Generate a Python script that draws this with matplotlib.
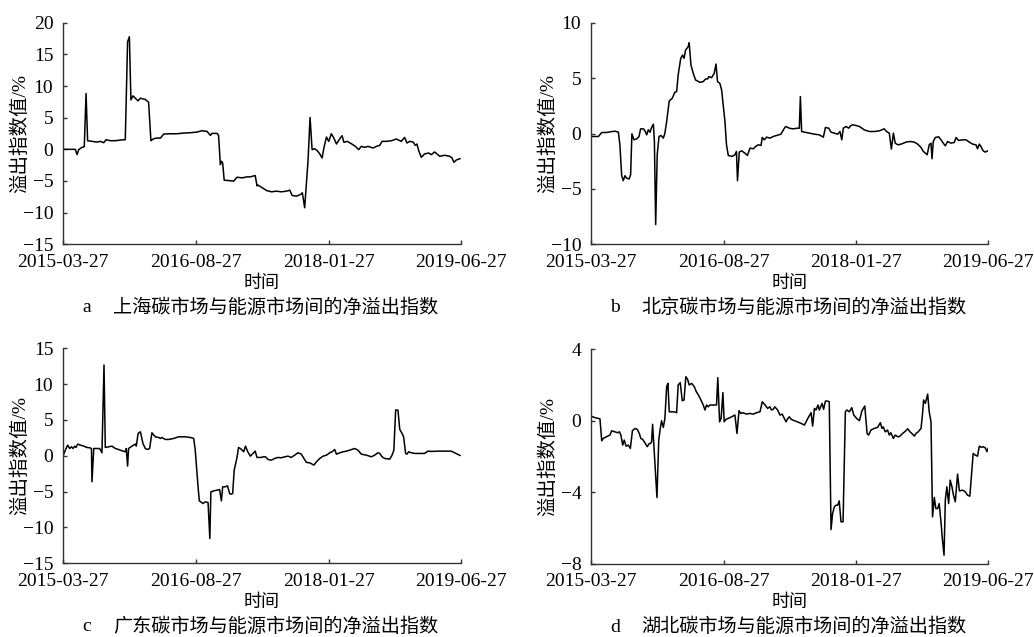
import matplotlib
matplotlib.use("Agg")
import matplotlib.pyplot as plt
import pandas as pd

plt.rcParams['font.family'] = ['Liberation Serif', 'Noto Sans CJK SC']
plt.rcParams['axes.unicode_minus'] = True

# Time axis: day offsets from the first observation (2015-03-27)
start_date = "2015-03-27"
tick_labels = ["2015-03-27", "2016-08-27", "2018-01-27", "2019-06-27"]

# a  Shanghai
days_a = [0, 48, 55, 61, 74, 83, 90, 96, 113, 133, 146, 159, 168, 185, 204, 224, 243, 252, 259, 265,
          273, 282, 293, 302, 321, 334, 343, 354, 367, 380, 393, 419, 445, 471, 497, 523, 542, 562, 575, 581,
          601, 607, 614, 619, 623, 629, 646, 666, 679, 698, 718, 731, 750, 757, 761, 774, 794, 813, 833, 852,
          872, 885, 894, 911, 927, 934, 943, 956, 964, 972, 982, 992, 1002, 1011, 1018, 1028, 1037, 1047, 1057, 1067,
          1080, 1089, 1096, 1109, 1125, 1141, 1154, 1164, 1177, 1190, 1210, 1223, 1236, 1245, 1262, 1281, 1301, 1320, 1333, 1342,
          1353, 1366, 1375, 1381, 1388, 1398, 1411, 1427, 1437, 1450, 1470, 1489, 1509, 1518, 1525, 1535, 1549]
vals_a = [0, 0, -0.84, -0.05, 0.31, 0.42, 8.81, 1.36, 1.26, 1.15, 1.26, 1.05, 1.52, 1.36, 1.36, 1.47, 1.52, 16.99, 17.78, 7.81,
          8.44, 8.08, 7.66, 8.08, 7.87, 7.45, 1.36, 1.68, 1.78, 1.78, 2.41, 2.46, 2.46, 2.57, 2.62, 2.73, 2.94, 2.83, 2.20, 2.52,
          2.52, 2.20, -2.41, -1.89, -2.15, -4.88, -4.93, -5.03, -4.40, -4.51, -4.35, -4.35, -4.14, -5.77, -5.66, -5.98, -6.50, -6.71, -6.61, -6.71,
          -6.61, -6.45, -7.29, -7.39, -7.13, -6.87, -9.23, -1.89, 5.03, -0.05, 0.10, -0.21, -0.73, -1.36, 0.21, 1.94, 1.26, 2.46, 1.78, 0.84,
          1.68, 2.15, 1.10, 1.26, 0.89, 0.47, -0.05, 0.47, 0.31, 0.47, 0.21, 0.47, 0.63, 1.26, 1.26, 1.36, 1.63, 1.26, 1.89, 1.00,
          1.26, 1.15, 0.63, 0.84, -0.21, -1.26, -0.73, -0.58, -0.84, -0.42, -1.10, -0.94, -1.10, -1.36, -2.05, -1.68, -1.47]

# b  Beijing
days_b = [0, 29, 42, 61, 74, 94, 107, 113, 120, 126, 133, 139, 149, 155, 160, 168, 179, 188, 194, 205,
          211, 218, 224, 231, 237, 244, 248, 253, 259, 266, 274, 283, 289, 296, 306, 318, 328, 335, 341, 351,
          358, 364, 370, 380, 384, 391, 400, 409, 426, 439, 448, 456, 461, 472, 482, 489, 495, 504, 511, 517,
          524, 530, 537, 552, 563, 569, 573, 580, 589, 602, 612, 622, 635, 644, 654, 665, 670, 678, 687, 700,
          713, 726, 743, 758, 763, 776, 789, 809, 815, 819, 824, 835, 854, 874, 893, 909, 917, 930, 939, 952,
          965, 974, 981, 987, 998, 1008, 1017, 1024, 1037, 1050, 1069, 1089, 1108, 1128, 1147, 1156, 1167, 1175, 1183, 1190,
          1200, 1213, 1232, 1248, 1265, 1278, 1291, 1300, 1308, 1315, 1323, 1330, 1334, 1339, 1347, 1360, 1369, 1378, 1386, 1395,
          1408, 1421, 1428, 1438, 1454, 1467, 1480, 1493, 1506, 1512, 1519, 1525, 1534, 1542, 1553]
vals_b = [-0.27, -0.27, 0.09, 0.09, 0.15, 0.21, 0.12, -1.02, -3.78, -4.26, -3.81, -4.02, -4.11, -3.72, -0.03, -0.57, -0.48, -0.27, 0.42, 0.42,
          0.24, -0.12, 0.33, 0.12, 0.54, 0.84, -0.72, -8.22, -1.92, -0.27, -0.18, -0.42, 0.03, 1.08, 2.94, 3.18, 3.72, 3.78, 5.28, 6.78,
          7.08, 6.78, 7.53, 7.83, 8.19, 6.18, 5.43, 4.83, 4.62, 4.68, 4.92, 4.92, 5.13, 5.04, 5.43, 6.27, 4.68, 4.53, 3.93, 2.58,
          1.08, -1.02, -1.98, -2.07, -1.92, -1.62, -4.26, -1.68, -1.56, -1.77, -1.98, -1.32, -1.38, -1.17, -1.02, -1.08, -0.36, -0.57, -0.33, -0.42,
          -0.27, -0.18, -0.06, 0.54, 0.63, 0.48, 0.42, 0.48, 0.48, 3.33, 0.18, 0.12, 0.03, -0.06, -0.12, -0.33, 0.54, 0.48, 0.12, 0.03,
          -0.06, 0.18, -0.57, 0.48, 0.63, 0.48, 0.72, 0.78, 0.72, 0.63, 0.33, 0.18, 0.18, 0.24, 0.42, 0.18, 0.03, -1.41, 0.03, -0.87,
          -1.02, -0.96, -0.78, -0.72, -0.78, -0.96, -1.26, -1.62, -1.77, -1.92, -1.02, -0.87, -2.28, -0.72, -0.36, -0.30, -0.57, -0.87, -1.11, -0.72,
          -0.87, -0.81, -0.36, -0.63, -0.57, -0.57, -0.78, -0.96, -1.02, -1.38, -0.96, -1.17, -1.56, -1.68, -1.56]

# c  Guangdong
days_c = [0, 9, 18, 26, 33, 39, 46, 51, 57, 68, 81, 94, 104, 111, 113, 120, 133, 143, 152, 160,
          165, 178, 191, 204, 217, 230, 243, 247, 252, 256, 269, 282, 286, 293, 302, 312, 321, 330, 338, 347,
          360, 373, 380, 386, 399, 412, 432, 451, 477, 497, 510, 516, 523, 527, 532, 538, 546, 555, 566, 573,
          577, 588, 601, 611, 618, 623, 633, 642, 650, 655, 662, 668, 679, 685, 692, 699, 705, 712, 721, 731,
          741, 750, 757, 774, 781, 790, 800, 813, 826, 839, 852, 865, 878, 891, 904, 917, 930, 940, 950, 963,
          979, 989, 1002, 1015, 1028, 1041, 1050, 1060, 1067, 1080, 1093, 1106, 1119, 1138, 1151, 1164, 1184, 1203, 1216, 1229,
          1236, 1245, 1255, 1275, 1284, 1291, 1298, 1307, 1314, 1323, 1329, 1337, 1342, 1349, 1359, 1372, 1385, 1398, 1411, 1424,
          1437, 1463, 1489, 1515, 1528, 1549]
vals_c = [-0.05, 0.79, 1.49, 1.02, 1.26, 1.02, 1.35, 1.16, 1.63, 1.49, 1.35, 1.16, 1.12, 1.02, -3.63, 1.02, 1.02, 1.02, 0.42, 12.67,
          1.16, 1.26, 1.35, 1.02, 0.88, 0.70, 0.56, 1.02, -1.44, 1.02, 1.35, 1.63, 1.35, 3.12, 3.35, 1.72, 1.02, 0.88, 1.02, 3.21,
          2.65, 2.56, 2.42, 2.56, 2.28, 2.28, 2.42, 2.65, 2.65, 2.56, 2.42, 0.79, -2.47, -4.33, -6.29, -6.43, -6.66, -6.43, -6.52, -11.55,
          -5.03, -4.89, -4.80, -4.70, -6.29, -4.33, -4.33, -4.19, -5.26, -5.36, -5.26, -2.00, -0.23, 1.16, 1.02, 0.79, 0.56, 1.35, 0.56, -0.05,
          0.33, 0.65, -0.23, -0.23, -0.14, -0.14, -0.51, -0.61, -0.37, -0.23, -0.28, -0.14, -0.05, -0.23, 0.09, 0.42, 0.23, -0.37, -0.93, -0.98,
          -1.30, -0.84, -0.37, -0.05, 0.09, 0.42, 0.56, 0.88, 0.23, 0.42, 0.56, 0.65, 0.79, 1.02, 0.79, 0.23, 0.09, -0.14, 0.09, 0.42,
          0.33, -0.14, -0.37, -0.47, 0.09, 0.79, 6.38, 6.38, 3.68, 3.12, 2.65, 0.33, 0.23, 0.56, 0.42, 0.33, 0.33, 0.33, 0.33, 0.65,
          0.61, 0.65, 0.65, 0.65, 0.42, 0.05]

# d  Hubei
days_d = [0, 16, 29, 35, 42, 48, 61, 74, 81, 94, 104, 111, 117, 124, 130, 137, 146, 154, 162, 172,
          181, 189, 195, 202, 211, 220, 228, 233, 237, 241, 258, 265, 271, 276, 283, 289, 296, 301, 306, 315,
          326, 335, 341, 349, 357, 364, 371, 378, 384, 394, 404, 412, 420, 430, 439, 446, 452, 459, 465, 474,
          485, 491, 496, 503, 509, 516, 521, 528, 537, 550, 563, 571, 579, 586, 595, 608, 622, 635, 648, 661,
          670, 681, 691, 700, 706, 713, 719, 730, 739, 748, 754, 763, 770, 776, 783, 796, 809, 822, 835, 848,
          861, 867, 874, 880, 888, 893, 904, 910, 917, 926, 932, 939, 945, 952, 958, 965, 971, 978, 986, 995,
          1001, 1011, 1020, 1028, 1039, 1050, 1060, 1071, 1080, 1086, 1095, 1108, 1121, 1132, 1138, 1143, 1151, 1160, 1167, 1173,
          1183, 1190, 1200, 1206, 1219, 1232, 1239, 1248, 1258, 1265, 1271, 1280, 1291, 1297, 1301, 1308, 1317, 1323, 1330, 1336,
          1343, 1349, 1356, 1362, 1369, 1375, 1381, 1386, 1392, 1399, 1405, 1412, 1418, 1425, 1434, 1441, 1454, 1464, 1473, 1482,
          1487, 1495, 1503, 1512, 1519, 1527, 1534, 1542, 1549, 1553]
vals_d = [0.25, 0.16, 0.12, 0.10, -1.13, -1.00, -0.90, -0.81, -0.57, -0.63, -0.68, -0.63, -0.81, -1.37, -1.09, -1.43, -1.37, -1.56, -0.57, -0.44,
          -0.49, -0.72, -1.00, -1.05, -1.24, -1.46, -1.28, -1.28, -1.18, -0.21, -4.30, -1.09, -0.44, -0.01, -0.38, 0.12, 1.89, 2.08, 0.49, 0.49,
          0.49, 0.44, 1.99, 2.12, 1.11, 1.15, 2.45, 2.30, 1.99, 2.08, 1.89, 1.61, 1.43, 1.15, 0.87, 0.59, 0.87, 0.77, 0.87, 0.87,
          0.87, 0.87, 2.40, -0.07, 0.12, 1.56, -0.07, 0.07, 0.12, 0.21, 0.31, -0.72, 0.55, 0.40, 0.44, 0.36, 0.40, 0.36, 0.44, 0.49,
          1.05, 0.87, 0.68, 0.77, 0.59, 0.63, 0.77, 0.59, 0.31, 0.36, 0.18, -0.07, 0.12, 0.21, 0.07, -0.01, -0.08, -0.16, -0.25, 0.12,
          0.44, -0.31, 0.68, 0.59, 0.87, 0.59, 0.96, 0.63, 1.09, 1.09, 1.05, -6.09, -5.20, -4.82, -4.73, -4.73, -4.49, -5.66, -5.66, 0.49,
          0.59, 0.49, 0.72, 0.31, 0.12, -0.01, 0.55, 0.81, -0.72, -0.81, -0.53, -0.44, -0.38, -0.12, -0.44, -0.35, -0.63, -0.53, -0.81, -0.68,
          -1.00, -0.81, -0.90, -0.90, -0.72, -0.57, -0.46, -0.63, -0.76, -0.87, -0.72, -0.63, -0.44, 0.40, 1.15, 0.96, 1.48, 0.49, -0.07, -5.38,
          -4.30, -4.92, -4.92, -4.64, -5.66, -6.69, -7.53, -4.45, -3.70, -4.64, -3.33, -3.70, -4.17, -4.54, -2.99, -3.93, -3.89, -3.98, -4.17, -4.23,
          -3.33, -1.84, -1.93, -1.99, -1.43, -1.50, -1.46, -1.52, -1.74, -1.56]

panel_letters = ["a", "b", "c", "d"]
panel_titles = ["上海碳市场与能源市场间的净溢出指数", "北京碳市场与能源市场间的净溢出指数",
                "广东碳市场与能源市场间的净溢出指数", "湖北碳市场与能源市场间的净溢出指数"]
y_ticks = [[-15, -10, -5, 0, 5, 10, 15, 20],
           [-10, -5, 0, 5, 10],
           [-15, -10, -5, 0, 5, 10, 15],
           [-8, -4, 0, 4]]
series = [(days_a, vals_a), (days_b, vals_b), (days_c, vals_c), (days_d, vals_d)]

t0 = pd.Timestamp(start_date)
tick_pos = [(pd.Timestamp(t) - t0).days for t in tick_labels]

W, H = 1034, 637
fig = plt.figure(figsize=(W / 100, H / 100), dpi=100)

# axes boxes in pixels: left, top, right, bottom
boxes = [(63, 22.7, 461, 244.3), (591, 22.7, 988, 244.3),
         (63, 348.3, 461, 563.3), (591, 349, 988, 563.7)]

for i, ((l, t, r, b), (dx, vy)) in enumerate(zip(boxes, series)):
    ax = fig.add_axes([l / W, 1 - b / H, (r - l) / W, (b - t) / H])
    ax.plot(dx, vy, color="black", lw=1.1)
    ax.set_xlim(tick_pos[0], tick_pos[-1])
    ax.set_ylim(y_ticks[i][0], y_ticks[i][-1])
    ax.set_xticks(tick_pos)
    ax.set_xticklabels(tick_labels)
    ax.set_yticks(y_ticks[i])
    ax.set_yticklabels([str(v).replace("-", "\u2212") for v in y_ticks[i]])
    for s in ("top", "right"):
        ax.spines[s].set_visible(False)
    for s in ("left", "bottom"):
        ax.spines[s].set_color("#333333")
        ax.spines[s].set_linewidth(1.0)
    ax.tick_params(direction="in", length=3, width=1, color="#333333",
                   labelsize=14)
    ax.tick_params(axis="x", pad=7)
    ax.tick_params(axis="y", pad=7)

    cy = (t + b) / 2
    fig.text((l - 43) / W, 1 - cy / H, "溢出指数值/%", rotation=90,
             ha="center", va="center", fontsize=14)

    cx = (l + r) / 2
    fig.text(cx / W, 1 - (b + 39) / H, "时间", ha="center", va="center", fontsize=13)
    fig.text((l + 24) / W, 1 - (b + 63.5) / H, panel_letters[i], ha="center", va="center", fontsize=14)
    fig.text((l + 50) / W, 1 - (b + 63.5) / H, panel_titles[i], ha="left", va="center", fontsize=13.8)

fig.savefig("out.png", dpi=100)
